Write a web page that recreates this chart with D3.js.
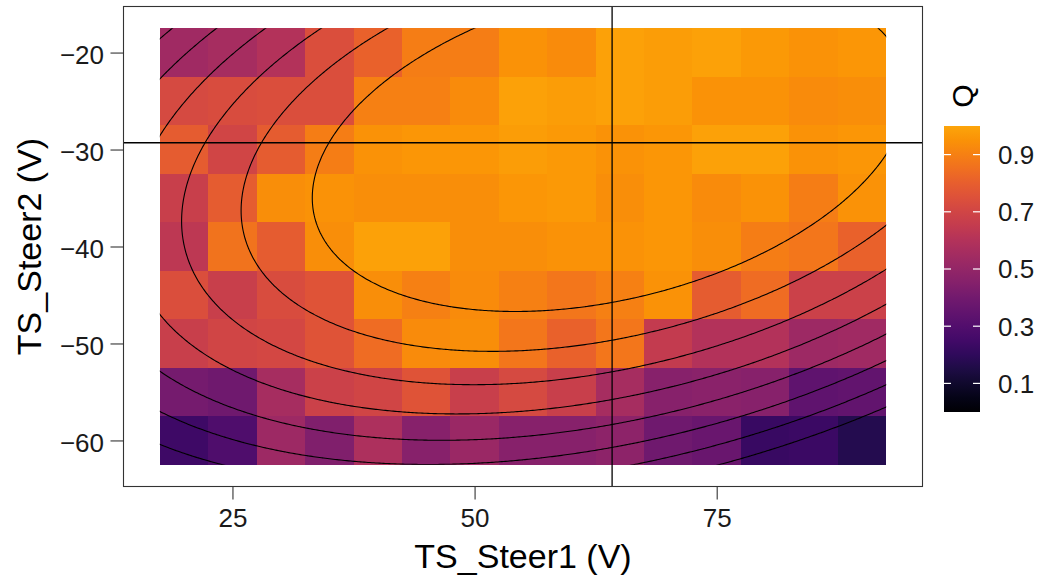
<!DOCTYPE html>
<html>
<head>
<meta charset="utf-8">
<script src="https://cdn.jsdelivr.net/npm/d3@7/dist/d3.min.js"></script>
<style>
  body { margin: 0; background: #fff; }
  text { font-family: "Liberation Sans", Arial, sans-serif; }
</style>
</head>
<body>
<svg id="chart" width="1043" height="580"></svg>
<script>
// grid of the heatmap
const steer1 = [20, 25, 30, 35, 40, 45, 50, 55, 60, 65, 70, 75, 80, 85, 90];
const steer2 = [-20, -25, -30, -35, -40, -45, -50, -55, -60];
// Q per row (steer2), one value per steer1 column
const qValues = [
  [0.54, 0.56, 0.60, 0.74, 0.81, 0.89, 0.89, 0.95, 0.93, 0.99, 0.98, 0.99, 0.97, 0.95, 0.96],
  [0.72, 0.73, 0.74, 0.74, 0.90, 0.90, 0.93, 0.99, 0.98, 0.99, 0.98, 0.95, 0.95, 0.93, 0.94],
  [0.79, 0.70, 0.79, 0.89, 0.95, 0.96, 0.96, 0.98, 0.97, 0.95, 0.96, 0.99, 0.99, 0.95, 0.96],
  [0.67, 0.79, 0.94, 0.95, 0.94, 0.94, 0.94, 0.96, 0.97, 0.94, 0.96, 0.93, 0.95, 0.89, 0.95],
  [0.63, 0.86, 0.79, 0.94, 0.99, 0.99, 0.94, 0.94, 0.95, 0.95, 0.96, 0.94, 0.89, 0.87, 0.81],
  [0.74, 0.67, 0.73, 0.76, 0.94, 0.90, 0.93, 0.90, 0.87, 0.90, 0.95, 0.79, 0.84, 0.68, 0.68],
  [0.67, 0.70, 0.71, 0.76, 0.84, 0.93, 0.94, 0.87, 0.81, 0.87, 0.65, 0.60, 0.60, 0.53, 0.54],
  [0.41, 0.39, 0.56, 0.68, 0.70, 0.76, 0.67, 0.72, 0.67, 0.56, 0.46, 0.47, 0.46, 0.34, 0.35],
  [0.24, 0.29, 0.53, 0.44, 0.58, 0.46, 0.52, 0.46, 0.46, 0.48, 0.39, 0.37, 0.22, 0.23, 0.17]
];

const xTicks = [25, 50, 75];
const yTicks = [-20, -30, -40, -50, -60];
const legendTicks = [0.1, 0.3, 0.5, 0.7, 0.9];
const contourLevels = [0.2, 0.3, 0.4, 0.5, 0.6, 0.7, 0.8, 0.9];
const optimum = [64.2, -29.3];

// points: [level, [[steer1, steer2], ...]]
const contourTrace = [
  [0.9, [[50.04, -17.46], [42.81, -21.86], [33.86, -34.9], [35.59, -40.02], [42.3, -44.62], [52.62, -46.33], [67.6, -44.65], [79.68, -40.22], [92.48, -29.72], [92.17, -17.98]]],
  [0.8, [[39.72, -17.46], [32.49, -22.54], [27.33, -29.07], [25.16, -36.1], [27.33, -43.59], [33.52, -47.71], [42.3, -50.63], [49.94, -51.14], [67.6, -49.36], [90.31, -39.81], [92.48, -38.37]]],
  [0.7, [[33.35, -17.46], [19.35, -37.65], [42.3, -54.23], [49.94, -54.54], [67.6, -51.97], [92.48, -42.6]]],
  [0.6, [[28.36, -17.46], [17.62, -28.69], [17.62, -47.23], [42.3, -56.98], [49.94, -57.12], [67.6, -54.92], [92.48, -45.68]]],
  [0.5, [[23.89, -17.46], [17.62, -23.33], [17.62, -52.6], [42.3, -59.66], [49.94, -59.58], [67.6, -56.98], [92.48, -48.56]]],
  [0.4, [[19.41, -17.46], [17.62, -19.11], [17.62, -56.7], [42.3, -62.29], [49.94, -62.15], [67.6, -59.66], [92.48, -51.25]]],
  [0.3, [[17.62, -60.72], [22.47, -62.26], [67.6, -62.13], [92.48, -54.03]]],
  [0.2, [[79.14, -62.26], [92.48, -57.53]]]
];

const svg = d3.select("#chart");
const panel = { left: 123.5, right: 922.5, top: 6.5, bottom: 486.5 };

const x = d3.scaleLinear().domain([13.75, 96.25]).range([panel.left, panel.right]);
const y = d3.scaleLinear().domain([-64.75, -15.25]).range([panel.bottom, panel.top]);
const qColor = q => d3.interpolateInferno(q * 0.8);

// heatmap
const cells = [];
steer2.forEach((sy, i) => steer1.forEach((sx, j) => cells.push({ sx, sy, q: qValues[i][j] })));

svg.append("g")
  .selectAll("rect")
  .data(cells)
  .enter().append("rect")
  .attr("x", d => x(d.sx - 2.5))
  .attr("y", d => y(d.sy + 2.5))
  .attr("width", d => x(d.sx + 2.5) - x(d.sx - 2.5))
  .attr("height", d => y(d.sy - 2.5) - y(d.sy + 2.5))
  .attr("fill", d => d.q === null ? "none" : qColor(d.q))
  .attr("shape-rendering", "crispEdges");

// quadratic surface fitted to the traced contour points
function fitQuadratic(trace) {
  const basis = (a, b) => { const u = (a - 55) / 10, v = (b + 40) / 10; return [1, u, v, u * u, v * v, u * v]; };
  const M = d3.range(6).map(() => new Array(7).fill(0));
  trace.forEach(([level, pts]) => pts.forEach(([a, b]) => {
    const f = basis(a, b);
    for (let i = 0; i < 6; i++) {
      for (let k = 0; k < 6; k++) M[i][k] += f[i] * f[k];
      M[i][6] += f[i] * level;
    }
  }));
  for (let c = 0; c < 6; c++) {
    let p = c;
    for (let r = c + 1; r < 6; r++) if (Math.abs(M[r][c]) > Math.abs(M[p][c])) p = r;
    [M[c], M[p]] = [M[p], M[c]];
    for (let r = 0; r < 6; r++) {
      if (r === c) continue;
      const k = M[r][c] / M[c][c];
      for (let s = c; s < 7; s++) M[r][s] -= k * M[c][s];
    }
  }
  const coef = M.map((row, i) => row[6] / row[i]);
  return (a, b) => d3.sum(basis(a, b), (f, i) => f * coef[i]);
}
const surface = fitQuadratic(contourTrace);

const step = 0.2, gx0 = 12.5, gy1 = -12.5;
const nx = Math.round((97.5 - gx0) / step), ny = Math.round((gy1 + 67.5) / step);
const grid = new Array(nx * ny);
for (let j = 0; j < ny; j++) {
  for (let i = 0; i < nx; i++) grid[i + j * nx] = surface(gx0 + (i + 0.5) * step, gy1 - (j + 0.5) * step);
}
const contours = d3.contours().size([nx, ny]).thresholds(contourLevels)(grid);
const toPixels = d3.geoTransform({
  point: function(cx, cy) { this.stream.point(x(gx0 + cx * step), y(gy1 - cy * step)); }
});

const defs = svg.append("defs");
defs.append("clipPath").attr("id", "tileClip")
  .append("rect")
  .attr("x", x(17.5)).attr("y", y(-17.5))
  .attr("width", x(92.5) - x(17.5)).attr("height", y(-62.5) - y(-17.5));
defs.append("clipPath").attr("id", "panelClip")
  .append("rect")
  .attr("x", panel.left).attr("y", panel.top)
  .attr("width", panel.right - panel.left).attr("height", panel.bottom - panel.top);

svg.append("g")
  .attr("clip-path", "url(#tileClip)")
  .selectAll("path")
  .data(contours)
  .enter().append("path")
  .attr("d", d3.geoPath(toPixels))
  .attr("fill", "none")
  .attr("stroke", "#000")
  .attr("stroke-width", 1.1);

// optimum cross-hair
const cross = svg.append("g").attr("clip-path", "url(#panelClip)");
cross.append("line")
  .attr("x1", x(optimum[0])).attr("x2", x(optimum[0]))
  .attr("y1", panel.top).attr("y2", panel.bottom)
  .attr("stroke", "#000").attr("stroke-width", 1.3);
cross.append("line")
  .attr("x1", panel.left).attr("x2", panel.right)
  .attr("y1", y(optimum[1])).attr("y2", y(optimum[1]))
  .attr("stroke", "#000").attr("stroke-width", 1.3);

// panel border
svg.append("rect")
  .attr("x", panel.left).attr("y", panel.top)
  .attr("width", panel.right - panel.left).attr("height", panel.bottom - panel.top)
  .attr("fill", "none").attr("stroke", "#333").attr("stroke-width", 1.1);

// axes
const xAxis = svg.append("g")
  .attr("transform", `translate(0,${panel.bottom})`)
  .call(d3.axisBottom(x).tickValues(xTicks).tickSize(13).tickSizeOuter(0).tickPadding(9));
const yAxis = svg.append("g")
  .attr("transform", `translate(${panel.left},0)`)
  .call(d3.axisLeft(y).tickValues(yTicks).tickSize(13).tickSizeOuter(0).tickPadding(6.5)
    .tickFormat(d => d3.format("d")(d).replace("-", "\u2212")));

[xAxis, yAxis].forEach(g => {
  g.select(".domain").remove();
  g.selectAll(".tick line").attr("stroke", "#333").attr("stroke-width", 1.1);
  g.selectAll(".tick text").attr("fill", "#1a1a1a").style("font-size", "26px");
});
yAxis.selectAll(".tick text").attr("dy", "0.42em");

svg.append("text")
  .attr("x", (panel.left + panel.right) / 2).attr("y", 568)
  .attr("text-anchor", "middle").style("font-size", "34px").attr("fill", "#000")
  .text("TS_Steer1 (V)");
svg.append("text")
  .attr("transform", `translate(41,${(panel.top + panel.bottom) / 2}) rotate(-90)`)
  .attr("text-anchor", "middle").style("font-size", "34px").attr("fill", "#000")
  .text("TS_Steer2 (V)");

// colour bar legend
const bar = { x: 944, width: 36, top: 126, bottom: 412 };
const grad = defs.append("linearGradient").attr("id", "qGrad")
  .attr("x1", 0).attr("y1", 1).attr("x2", 0).attr("y2", 0);
d3.range(0, 1.0001, 0.05).forEach(t => {
  grad.append("stop").attr("offset", t).attr("stop-color", qColor(t));
});
const qLegend = d3.scaleLinear().domain([0, 1]).range([bar.bottom, bar.top]);

svg.append("rect")
  .attr("x", bar.x).attr("y", bar.top)
  .attr("width", bar.width).attr("height", bar.bottom - bar.top)
  .attr("fill", "url(#qGrad)");

const lg = svg.append("g");
legendTicks.forEach(t => {
  lg.append("line").attr("x1", bar.x).attr("x2", bar.x + 7)
    .attr("y1", qLegend(t)).attr("y2", qLegend(t)).attr("stroke", "#fff").attr("stroke-width", 1.2);
  lg.append("line").attr("x1", bar.x + bar.width - 7).attr("x2", bar.x + bar.width)
    .attr("y1", qLegend(t)).attr("y2", qLegend(t)).attr("stroke", "#fff").attr("stroke-width", 1.2);
  lg.append("text").attr("x", 998).attr("y", qLegend(t)).attr("dy", "0.36em")
    .style("font-size", "26px").attr("fill", "#1a1a1a").text(d3.format(".1f")(t));
});

svg.append("text")
  .attr("transform", "translate(973,96) rotate(-90)")
  .attr("text-anchor", "middle").style("font-size", "30px").attr("fill", "#000")
  .text("Q");
</script>
</body>
</html>
